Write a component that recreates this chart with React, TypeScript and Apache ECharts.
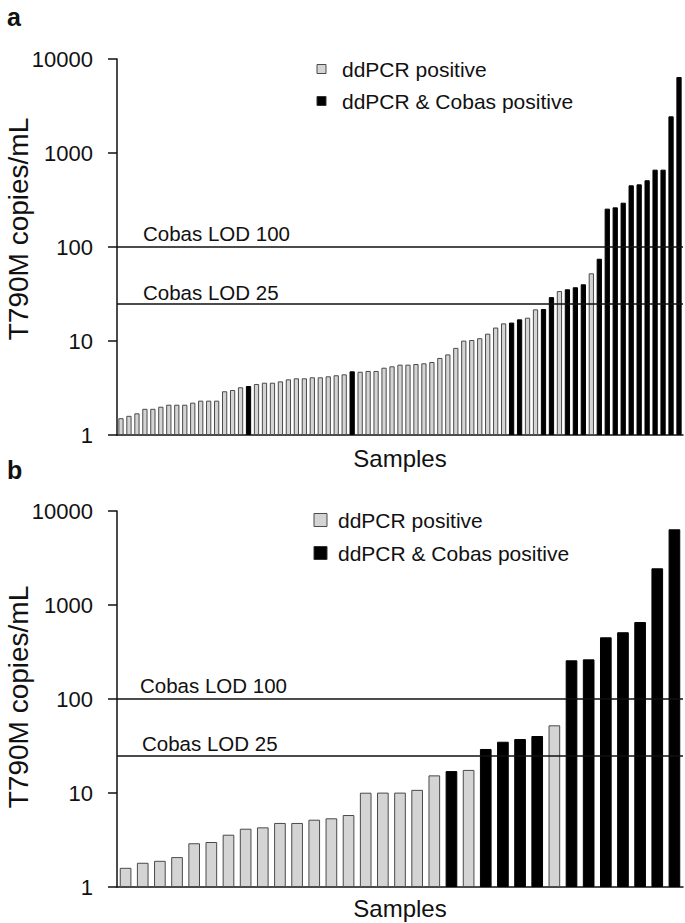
import React, { useEffect, useRef } from "react";
import * as echarts from "echarts";

// ---- Data ----
const TOP_VALUES = [
  1.51, 1.6, 1.7, 1.9, 1.9, 2.0, 2.1, 2.1, 2.1, 2.21, 2.32, 2.32, 2.32, 2.92, 3.01, 3.22, 3.32, 3.49,
  3.6, 3.6, 3.72, 3.91, 4.01, 4.01, 4.11, 4.11, 4.21, 4.32, 4.42, 4.76, 4.71, 4.8, 4.8, 5.2, 5.38,
  5.6, 5.6, 5.69, 5.79, 5.98, 6.6, 7.2, 8.45, 10.1, 10.25, 10.7, 11.96, 13.9, 15.4, 15.7, 17.0, 17.7,
  21.7, 21.9, 29.3, 34.0, 35.5, 37.3, 40.1, 52.5, 75, 256, 264, 296, 453, 464, 513, 665, 665, 2456, 6436,
];
// 1 = ddPCR & Cobas positive, 0 = ddPCR positive only
const TOP_COBAS = [
  0, 0, 0, 0, 0, 0, 0, 0, 0, 0, 0, 0, 0, 0, 0, 0, 1, 0,
  0, 0, 0, 0, 0, 0, 0, 0, 0, 0, 0, 1, 0, 0, 0, 0, 0,
  0, 0, 0, 0, 0, 0, 0, 0, 0, 0, 0, 0, 0, 0, 1, 1, 0,
  0, 1, 1, 0, 1, 1, 1, 0, 1, 1, 1, 1, 1, 1, 1, 1, 1, 1, 1,
];
const BOTTOM_VALUES = [
  1.6, 1.81, 1.9, 2.08, 2.92, 3.01, 3.6, 4.17, 4.31, 4.8, 4.8, 5.2, 5.38, 5.83, 10.07, 10.1, 10.1,
  10.8, 15.4, 17.1, 17.6, 29.4, 35.1, 37.5, 40.4, 52.5, 258, 264, 453, 513, 659, 2456, 6386,
];
const BOTTOM_COBAS = [
  0, 0, 0, 0, 0, 0, 0, 0, 0, 0, 0, 0, 0, 0, 0, 0, 0,
  0, 0, 1, 0, 1, 1, 1, 1, 0, 1, 1, 1, 1, 1, 1, 1,
];
const Y_TICKS = ["1", "10", "100", "1000", "10000"];
const LOD_LINES = [
  { value: 100, label: "Cobas LOD 100" },
  { value: 25, label: "Cobas LOD 25" },
];
const LEGEND_LABELS = ["ddPCR positive", "ddPCR & Cobas positive"];
const PANEL_LABELS = ["a", "b"];
const Y_TITLE = "T790M copies/mL";
const X_TITLE = "Samples";

const FONT = "'Liberation Sans', Arial, Helvetica, sans-serif";
const GREY = "#d4d4d4";
const GREY_BORDER = "#4a4a4a";

export default function App() {
  const ref = useRef<HTMLDivElement>(null);

  useEffect(() => {
    if (!ref.current) return;
    const chart = echarts.init(ref.current, null, { renderer: "svg" });

    const grids = [
      { left: 117, top: 59, width: 566, height: 376, containLabel: false, outerBoundsMode: "none" },
      { left: 117, top: 511, width: 566, height: 376, containLabel: false, outerBoundsMode: "none" },
    ];
    const panels = [
      { values: TOP_VALUES, flags: TOP_COBAS, barWidth: "66%", nameGap: 11, titleY: 229 },
      { values: BOTTOM_VALUES, flags: BOTTOM_COBAS, barWidth: "68%", nameGap: 9, titleY: 697 },
    ];

    const xAxes = panels.map((p, i) => ({
      type: "category",
      gridIndex: i,
      data: p.values.map((_, k) => "S" + (k + 1)),
      axisLine: { show: true, lineStyle: { color: "#111", width: 1.5 } },
      axisTick: { show: false },
      axisLabel: { show: false },
      name: X_TITLE,
      nameLocation: "middle",
      nameGap: p.nameGap,
      nameTextStyle: { fontFamily: FONT, fontSize: 24, color: "#111", verticalAlign: "top" },
    }));

    const yAxes = panels.map((_, i) => ({
      type: "log",
      logBase: 10,
      gridIndex: i,
      min: 1,
      max: 10000,
      splitLine: { show: false },
      minorTick: { show: false },
      axisLine: { show: true, onZero: false, lineStyle: { color: "#111", width: 1.5 } },
      axisTick: { show: true, length: 9, lineStyle: { color: "#111", width: 1.5 } },
      axisLabel: {
        margin: 24,
        fontFamily: FONT,
        fontSize: 22,
        color: "#111",
        formatter: (v: number) => {
          const idx = Math.round(Math.log10(v));
          return Y_TICKS[idx] ?? String(v);
        },
      },
    }));

    const series: any[] = [];
    panels.forEach((p, i) => {
      series.push({
        name: LEGEND_LABELS[0],
        type: "bar",
        xAxisIndex: i,
        yAxisIndex: i,
        barWidth: p.barWidth,
        barGap: "-100%",
        data: p.values.map((v, k) => (p.flags[k] ? "-" : v)),
        itemStyle: { color: GREY, borderColor: GREY_BORDER, borderWidth: 1 },
        z: 2,
        markLine: {
          silent: true,
          symbol: "none",
          z: 5,
          label: { show: false },
          lineStyle: { color: "#111", width: 1.5, type: "solid" },
          data: LOD_LINES.map((l) => ({ yAxis: l.value })),
        },
      });
      series.push({
        name: LEGEND_LABELS[1],
        type: "bar",
        xAxisIndex: i,
        yAxisIndex: i,
        barWidth: p.barWidth,
        barGap: "-100%",
        data: p.values.map((v, k) => (p.flags[k] ? v : "-")),
        itemStyle: { color: "#000", borderColor: "#000", borderWidth: 1 },
        z: 2,
      });
    });

    const textStyle = (txt: string, size: number, extra: any = {}) => ({
      text: txt,
      fontFamily: FONT,
      fontSize: size,
      fill: "#111",
      ...extra,
    });

    const graphic: any[] = [];
    // panel letters
    graphic.push({ type: "text", left: 7, top: 4, style: textStyle(PANEL_LABELS[0], 25, { fontWeight: "bold" }) });
    graphic.push({ type: "text", left: 7, top: 457, style: textStyle(PANEL_LABELS[1], 25, { fontWeight: "bold" }) });

    // y-axis titles
    panels.forEach((p) => {
      graphic.push({
        type: "text",
        x: 18,
        y: p.titleY,
        rotation: Math.PI / 2,
        style: textStyle(Y_TITLE, 28, { align: "center", verticalAlign: "middle" }),
      });
    });

    // legends
    const legends = [
      { x: 317, ys: [69, 101], size: 9, textX: 342 },
      { x: 314, ys: [520, 553], size: 13, textX: 338 },
    ];
    legends.forEach((lg) => {
      lg.ys.forEach((cy, j) => {
        graphic.push({
          type: "rect",
          shape: { x: lg.x, y: cy - lg.size / 2, width: lg.size, height: lg.size },
          style: j === 0 ? { fill: GREY, stroke: GREY_BORDER, lineWidth: 1 } : { fill: "#000", stroke: "#333", lineWidth: 1 },
        });
        graphic.push({
          type: "text",
          x: lg.textX,
          y: cy,
          style: textStyle(LEGEND_LABELS[j], 21, { verticalAlign: "middle" }),
        });
      });
    });

    // LOD labels
    const lodLabelPos = [
      [{ x: 143, y: 233 }, { x: 143, y: 292 }],
      [{ x: 140, y: 685 }, { x: 142, y: 743 }],
    ];
    lodLabelPos.forEach((pos) => {
      pos.forEach((p, j) => {
        graphic.push({
          type: "text",
          x: p.x,
          y: p.y,
          style: textStyle(LOD_LINES[j].label, 20.5, { verticalAlign: "middle" }),
        });
      });
    });

    chart.setOption({
      animation: false,
      backgroundColor: "#fff",
      grid: grids,
      xAxis: xAxes,
      yAxis: yAxes,
      series,
      graphic,
    });

    return () => chart.dispose();
  }, []);

  return (
    <div
      ref={ref}
      style={{ position: "fixed", left: 0, top: 0, width: 685, height: 923, background: "#fff" }}
    />
  );
}
